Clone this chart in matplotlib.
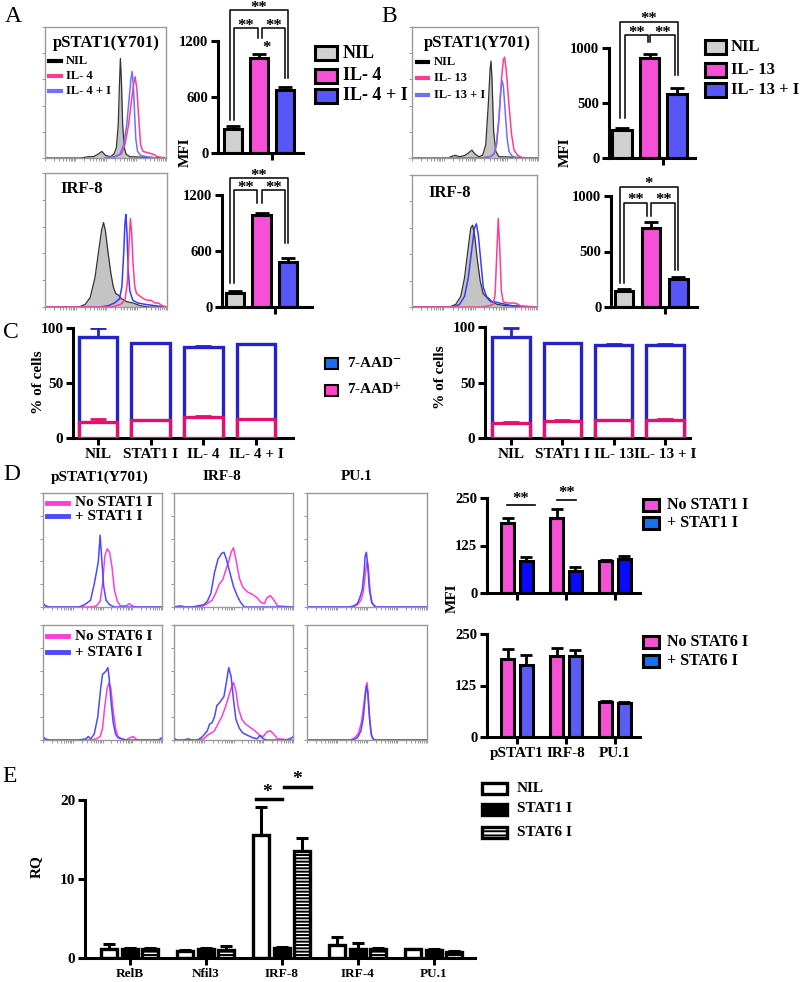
import numpy as np
import matplotlib
matplotlib.use('Agg')
import matplotlib.pyplot as plt
from matplotlib.patches import Rectangle
from matplotlib.lines import Line2D

plt.rcParams['font.family'] = ['Liberation Serif', 'DejaVu Serif']
plt.rcParams['font.weight'] = 'bold'
plt.rcParams['mathtext.fontset'] = 'stix'
plt.rcParams['hatch.linewidth'] = 1.4

# ---------------- DATA ----------------
# Panel A / B bar charts (MFI)
a_groups = ["NIL", "IL- 4", "IL- 4 + I"]
a1_vals = [262, 1020, 672]
a1_errs = [22, 45, 30]
a2_vals = [150, 990, 480]
a2_errs = [20, 22, 42]
b_groups = ["NIL", "IL- 13", "IL- 13 + I"]
b1_vals = [255, 905, 582]
b1_errs = [18, 45, 52]
b2_vals = [146, 712, 252]
b2_errs = [16, 50, 18]

# Panel C (% of cells)
c_left_labels = ["NIL", "STAT1 I", "IL- 4", "IL- 4 + I"]
c_left_neg = [92, 86, 82.5, 85.5]
c_left_neg_err = [8, 0.4, 1.2, 0.4]
c_left_pos = [15, 16, 19, 17]
c_left_pos_err = [2.5, 0.7, 1.0, 0.7]
c_right_labels = ["NIL", "STAT1 I", "IL- 13", "IL- 13 + I"]
c_right_neg = [91, 85.6, 84.2, 84.2]
c_right_neg_err = [8, 0.4, 0.3, 0.5]
c_right_pos = [13.5, 15.3, 16.2, 16.2]
c_right_pos_err = [1.0, 0.6, 0.4, 0.5]

# Panel D bar charts (MFI)
d_labels = ["pSTAT1", "IRF-8", "PU.1"]
d1_no = [184, 197, 84]
d1_no_err = [13, 24, 3]
d1_with = [84, 58, 89]
d1_with_err = [11, 10, 8]
d2_no = [189, 197, 85]
d2_no_err = [25, 19, 2]
d2_with = [175, 197, 82]
d2_with_err = [24, 14, 3]

# Panel E (RQ)
e_labels = ["RelB", "Nfil3", "IRF-8", "IRF-4", "PU.1"]
e_nil = [1.2, 0.85, 15.6, 1.7, 1.1]
e_nil_err = [0.6, 0.1, 3.5, 1.0, 0.1]
e_stat1 = [1.1, 1.1, 1.3, 1.2, 1.0]
e_stat1_err = [0.2, 0.2, 0.1, 0.7, 0.15]
e_stat6 = [1.2, 1.0, 13.6, 1.2, 0.8]
e_stat6_err = [0.1, 0.5, 1.6, 0.1, 0.1]

# Histogram curves (x: % of axis, y: % of axis height)
a1_nil_x = [0, 30, 36, 40, 44, 47, 50, 54, 57, 59, 60.5, 61.5, 62.3, 63.2, 64.2, 65.5, 67, 70, 100]
a1_nil_y = [0, 0, 1, 1, 3, 5, 2, 1, 3, 8, 25, 55, 76, 58, 25, 8, 3, 1, 0]
a1_il_x = [50, 58, 63, 66, 69, 71, 73, 74.5, 76, 77.5, 79, 81, 85, 89, 93, 100]
a1_il_y = [0, 1, 3, 10, 25, 40, 55, 62, 52, 30, 10, 5, 4, 3, 1, 0]
a1_ili_x = [50, 58, 62, 65, 67.5, 69.5, 71, 72, 73, 74, 75, 76.5, 79, 84, 92]
a1_ili_y = [0, 1, 3, 10, 25, 45, 60, 66, 56, 35, 15, 5, 2, 1, 0]

a2_nil_x = [0, 28, 33, 37, 41, 44, 46.5, 48, 49.5, 51.5, 54, 56, 58, 60, 63, 67, 72, 78, 85, 100]
a2_nil_y = [0, 0, 2, 7, 22, 42, 58, 63, 57, 42, 25, 15, 10, 9, 6, 4, 3, 1, 0, 0]
a2_ili_x = [0, 45, 52, 57, 61, 63, 64.5, 65.5, 66.3, 67.2, 68.2, 69.5, 72, 76, 82, 90, 100]
a2_ili_y = [0, 0, 1, 3, 6, 15, 40, 62, 69, 55, 28, 12, 5, 3, 2, 1, 0]
a2_il_x = [0, 55, 62, 65.5, 67.5, 68.8, 70, 71, 72.2, 73.5, 75, 78, 81, 84, 87, 90, 93, 96, 100]
a2_il_y = [0, 0, 2, 5, 18, 45, 66, 56, 32, 16, 10, 8, 6, 5, 5, 3, 3, 1, 0]

b1_nil_x = [0, 28, 34, 38, 42, 45, 47.5, 50, 53, 56, 58.5, 60.5, 62, 62.7, 63.5, 64.8, 66.5, 69, 100]
b1_nil_y = [0, 0, 2, 1, 2, 4, 6, 3, 1, 2, 10, 40, 68, 74, 60, 20, 5, 1, 0]
b1_il_x = [0, 55, 62, 65, 67, 69, 71, 72.5, 73.5, 75, 77, 79, 81, 84, 88, 100]
b1_il_y = [0, 0, 1, 3, 10, 30, 60, 75, 77, 65, 40, 18, 6, 2, 0, 0]
b1_ili_x = [0, 55, 62, 65, 67, 69, 70.5, 71.5, 72.5, 74, 75.5, 77, 79, 82, 100]
b1_ili_y = [0, 0, 1, 3, 10, 30, 52, 59, 55, 35, 15, 5, 2, 0, 0]

b2_nil_x = [0, 30, 35, 39, 42, 45, 47, 48.5, 50, 52, 54.5, 57, 59, 61, 64, 68, 75, 100]
b2_nil_y = [0, 0, 2, 8, 22, 45, 60, 62, 55, 38, 20, 10, 8, 7, 4, 2, 1, 0]
b2_ili_x = [0, 33, 38, 42, 45, 48, 50, 51.5, 53, 55, 57, 60, 63, 66, 70, 75, 80, 100]
b2_ili_y = [0, 0, 2, 8, 22, 45, 60, 63, 55, 35, 15, 7, 4, 4, 3, 2, 1, 0]
b2_il_x = [0, 55, 62, 65, 66.5, 67.8, 69, 70.2, 71.5, 73, 76, 80, 82, 85, 88, 100]
b2_il_y = [0, 0, 1, 2, 10, 40, 67, 45, 12, 4, 3, 3, 3, 2, 0, 0]

d11_with_x = [0, 2, 5, 30, 35, 40, 43, 45, 46.5, 48, 49.5, 51, 53, 56, 60, 65, 100]
d11_with_y = [3, 1, 0, 0, 2, 6, 20, 31, 40, 63, 40, 18, 6, 2, 0, 0, 0]
d11_no_x = [0, 2, 5, 40, 45, 48, 50, 52, 54, 56, 58, 60, 62.5, 65, 70, 72.5, 75, 78, 100]
d11_no_y = [3, 1, 0, 0, 1, 5, 20, 45, 51, 48, 35, 15, 5, 1, 1, 3, 1, 0, 0]
d12_with_x = [0, 5, 10, 15, 20, 25, 28, 31, 34, 37, 40, 42, 44, 47, 50, 53, 56, 59, 100]
d12_with_y = [0, 1, 0, 0, 1, 2, 5, 12, 30, 42, 47, 48, 42, 30, 18, 10, 4, 0, 0]
d12_no_x = [0, 20, 25, 28, 32, 35, 38, 41, 44, 46, 48, 50, 52, 55, 58, 62, 66, 70, 73, 76, 78, 81, 84, 87, 100]
d12_no_y = [0, 0, 1, 3, 6, 12, 20, 24, 34, 40, 48, 52, 42, 25, 17, 13, 11, 8, 4, 3, 8, 10, 6, 1, 0]
d13_with_x = [0, 35, 39, 42, 44, 46, 47.5, 48.5, 49.5, 50.5, 52, 54, 56, 58, 100]
d13_with_y = [0, 0, 1, 3, 8, 15, 30, 45, 48, 38, 15, 4, 1, 0, 0]
d13_no_x = [0, 38, 42, 45, 47, 48.5, 50, 51, 52.5, 54, 56, 58, 100]
d13_no_y = [0, 0, 2, 6, 14, 28, 40, 36, 15, 4, 1, 0, 0]

d21_with_x = [0, 2, 5, 30, 36, 38, 40, 43, 46, 48.5, 50, 51, 53, 54.5, 55.5, 57, 59, 61, 63, 66, 70, 97, 100]
d21_with_y = [3, 1, 0, 0, 1, 3, 1, 5, 20, 45, 57, 58, 60, 63, 55, 35, 15, 5, 2, 1, 0, 0, 2]
d21_no_x = [0, 40, 45, 48, 50, 52, 54, 55.5, 57, 59, 61, 63, 66, 70, 73, 76, 79, 100]
d21_no_y = [0, 0, 1, 3, 10, 30, 45, 50, 45, 25, 10, 3, 1, 0, 2, 3, 0, 0]
d22_with_x = [0, 2, 8, 12, 15, 20, 24, 28, 30, 32, 34, 36, 38, 40, 42, 44, 46, 48, 50, 52, 55, 58, 62, 66, 70, 72, 75, 78, 82, 88, 95, 99, 100]
d22_with_y = [2, 0, 0, 1, 0, 0, 3, 8, 14, 15, 20, 30, 32, 35, 38, 50, 63, 55, 35, 18, 10, 6, 4, 2, 1, 4, 1, 0, 0, 0, 0, 2, 3]
d22_no_x = [0, 20, 25, 28, 31, 34, 37, 40, 43, 46, 48, 50, 52, 54, 57, 60, 64, 68, 72, 75, 78, 81, 84, 87, 100]
d22_no_y = [0, 0, 1, 4, 6, 8, 14, 20, 28, 38, 45, 50, 43, 28, 18, 14, 11, 8, 4, 3, 7, 8, 5, 1, 0]
d23_with_x = [0, 38, 42, 45, 47, 48.5, 49.5, 50.5, 52, 53.5, 55, 57, 100]
d23_with_y = [0, 0, 2, 8, 20, 38, 47, 42, 20, 5, 1, 0, 0]
d23_no_x = [0, 36, 40, 43, 45.5, 47.5, 49, 50, 51, 52.5, 54, 56, 100]
d23_no_y = [0, 0, 2, 6, 16, 32, 45, 50, 40, 15, 3, 0, 0]

# ---------------- STYLE ----------------
GRAY = '#d0d0d0'
PINK = '#f550d6'
BLUE = '#5757f7'
HIST_PINK_A = '#ff3d8e'
HIST_BLUE_A = '#6f6fff'
D_PINK = '#ff3ddc'
D_BLUE = '#4a4aff'
LEG_BLUE = '#1a6ff0'
C_BLUE = '#2323c8'
C_PINK = '#e0126e'

W, H = 800, 982
fig = plt.figure(figsize=(8, 9.82), dpi=100)


def rect(x0, y0, x1, y1):
    return [x0 / W, 1 - y1 / H, (x1 - x0) / W, (y1 - y0) / H]


def fx(x):
    return x / W


def fy(y):
    return 1 - y / H


LOGT = [25 * d + 25 * np.log10(k) for d in range(4) for k in range(1, 10)] + [100]


def hist_axes(x0, y0, x1, y1):
    ax = fig.add_axes(rect(x0, y0, x1, y1))
    ax.set_xlim(0, 100)
    ax.set_ylim(0, 100)
    for s in ax.spines.values():
        s.set_color('#9a9a9a')
        s.set_linewidth(1.0)
    ax.set_yticks(np.arange(0, 101, 20))
    ax.set_xticks(LOGT)
    ax.tick_params(length=2, width=0.6, colors='#888888', labelleft=False, labelbottom=False)
    return ax


def prism(ax, xlim, ylim, yticks, fs=10.5):
    ax.set_xlim(*xlim)
    ax.set_ylim(*ylim)
    ax.spines['top'].set_visible(False)
    ax.spines['right'].set_visible(False)
    ax.spines['left'].set_linewidth(2.2)
    ax.spines['bottom'].set_linewidth(2.2)
    ax.set_yticks(yticks)
    ax.tick_params(width=2.2, length=5, labelsize=fs, pad=2)
    ax.patch.set_alpha(0)


def bars3(ax, vals, errs, colors):
    x = np.arange(len(vals))
    ax.bar(x, vals, width=0.7, color=colors, edgecolor='black', linewidth=2.2, zorder=2)
    ax.errorbar(x, vals, yerr=[np.zeros(len(vals)), errs], fmt='none', ecolor='black',
                elinewidth=2, capsize=5, capthick=2, zorder=1)


def bracket(ax, x1, x2, y, y1, y2, text, ty, fs=12):
    ax.plot([x1, x1, x2, x2], [y1, y, y, y2], color='black', lw=1.1, clip_on=False)
    ax.text((x1 + x2) / 2, ty, text, ha='center', va='center', fontsize=fs, clip_on=False)


def box_legend(x0, w, h, ycs, fcs, labels, tx, fs, lw=2.2, hatches=None):
    for i, (yc, fc, lab) in enumerate(zip(ycs, fcs, labels)):
        r = Rectangle((fx(x0), fy(yc + h / 2)), w / W, h / H, transform=fig.transFigure,
                      facecolor=fc, edgecolor='black', lw=lw,
                      hatch=(hatches[i] if hatches else None))
        fig.add_artist(r)
        fig.text(fx(tx), fy(yc), lab, va='center', ha='left', fontsize=fs)


def line_legend(x0, x1, ycs, colors, labels, tx, fs, lw=3):
    for yc, c, lab in zip(ycs, colors, labels):
        fig.add_artist(Line2D([fx(x0), fx(x1)], [fy(yc), fy(yc)], color=c, lw=lw,
                              transform=fig.transFigure))
        fig.text(fx(tx), fy(yc), lab, va='center', ha='left', fontsize=fs)


# panel letters
for lab, (x, y) in {"A": (5, 17), "B": (381, 17), "C": (3, 332), "D": (3, 475), "E": (2, 777)}.items():
    fig.text(fx(x), fy(y), lab, fontsize=17, fontweight='normal', va='center', ha='left')

# ---------------- Panel A ----------------
ax = hist_axes(45, 27, 166, 158)
ax.fill_between(a1_nil_x, a1_nil_y, color='#c4c4c4', lw=0)
ax.plot(a1_nil_x, a1_nil_y, color='#333333', lw=0.9)
ax.plot(a1_il_x, a1_il_y, color=HIST_PINK_A, lw=1.1)
ax.plot(a1_ili_x, a1_ili_y, color=HIST_BLUE_A, lw=1.1)
fig.text(fx(106), fy(43), "pSTAT1(Y701)", ha='center', va='center', fontsize=12)
line_legend(49, 61, [61, 76, 91], ['black', HIST_PINK_A, HIST_BLUE_A], a_groups, 66, 9)

ax = hist_axes(45, 173, 167, 307)
ax.fill_between(a2_nil_x, a2_nil_y, color='#c4c4c4', lw=0)
ax.plot(a2_nil_x, a2_nil_y, color='#333333', lw=0.9)
ax.plot(a2_ili_x, a2_ili_y, color='#3a3aff', lw=1.1)
ax.plot(a2_il_x, a2_il_y, color=HIST_PINK_A, lw=1.1)
fig.text(fx(60), fy(189), "IRF-8", ha='left', va='center', fontsize=12)

ax = fig.add_axes(rect(218, 41, 303, 153))
prism(ax, (-0.58, 2.69), (0, 1200), [0, 600, 1200])
bars3(ax, a1_vals, a1_errs, [GRAY, PINK, BLUE])
ax.set_xticks([1.5])
ax.set_xticklabels([""])
bracket(ax, -0.12, 2.12, 1530, 350, 800, "**", 1555)
bracket(ax, 0.04, 0.96, 1340, 350, 1230, "**", 1365)
bracket(ax, 1.1, 2.0, 1340, 1230, 800, "**", 1365)
ax.text(1.3, 1130, "*", ha='center', va='center', fontsize=12)

ax = fig.add_axes(rect(222, 195, 312, 307))
prism(ax, (-0.49, 2.9), (0, 1200), [0, 600, 1200])
bars3(ax, a2_vals, a2_errs, [GRAY, PINK, BLUE])
ax.set_xticks([1.5])
ax.set_xticklabels([""])
bracket(ax, -0.19, 2.0, 1382, 257, 686, "**", 1405)
bracket(ax, -0.04, 0.83, 1254, 257, 1114, "**", 1275)
bracket(ax, 1.02, 1.89, 1254, 1114, 686, "**", 1275)

fig.text(fx(185), fy(152), "MFI", rotation=90, ha='center', va='center', fontsize=11)
box_legend(315, 22, 13, [53, 76, 96], [GRAY, PINK, BLUE], a_groups, 343, 13)

# ---------------- Panel B ----------------
ax = hist_axes(412, 27, 538, 158)
ax.fill_between(b1_nil_x, b1_nil_y, color='#c4c4c4', lw=0)
ax.plot(b1_nil_x, b1_nil_y, color='#333333', lw=0.9)
ax.plot(b1_il_x, b1_il_y, color=HIST_PINK_A, lw=1.1)
ax.plot(b1_ili_x, b1_ili_y, color=HIST_BLUE_A, lw=1.1)
fig.text(fx(477), fy(43), "pSTAT1(Y701)", ha='center', va='center', fontsize=12)
line_legend(417, 428, [62, 78, 95], ['black', HIST_PINK_A, HIST_BLUE_A], b_groups, 434, 9)

ax = hist_axes(412, 175, 537, 307)
ax.fill_between(b2_nil_x, b2_nil_y, color='#c4c4c4', lw=0)
ax.plot(b2_nil_x, b2_nil_y, color='#333333', lw=0.9)
ax.plot(b2_ili_x, b2_ili_y, color='#3a3aff', lw=1.1)
ax.plot(b2_il_x, b2_il_y, color=HIST_PINK_A, lw=1.1)
fig.text(fx(428), fy(193), "IRF-8", ha='left', va='center', fontsize=12)

ax = fig.add_axes(rect(609, 48, 695, 158))
prism(ax, (-0.47, 2.65), (0, 1000), [0, 500, 1000])
bars3(ax, b1_vals, b1_errs, [GRAY, PINK, BLUE])
ax.set_xticks([1.5])
ax.set_xticklabels([""])
bracket(ax, -0.07, 2.04, 1236, 364, 755, "**", 1265)
bracket(ax, 0.11, 0.95, 1118, 364, 1055, "**", 1135)
bracket(ax, 1.02, 1.93, 1118, 1055, 755, "**", 1135)

ax = fig.add_axes(rect(611, 196, 697, 307))
prism(ax, (-0.48, 2.7), (0, 1000), [0, 500, 1000])
bars3(ax, b2_vals, b2_errs, [GRAY, PINK, BLUE])
ax.set_xticks([1.5])
ax.set_xticklabels([""])
bracket(ax, -0.15, 2.0, 1081, 216, 333, "*", 1110)
bracket(ax, 0.0, 0.85, 937, 216, 820, "**", 960)
bracket(ax, 1.0, 1.9, 937, 820, 333, "**", 960)

fig.text(fx(565), fy(152), "MFI", rotation=90, ha='center', va='center', fontsize=11)
box_legend(705, 21, 14, [47, 70, 90], [GRAY, PINK, BLUE], b_groups, 731, 12)


# ---------------- Panel C ----------------
def c_panel(box, xlim, labels, neg, neg_err, pos, pos_err):
    ax = fig.add_axes(rect(*box))
    prism(ax, xlim, (0, 100), [0, 50, 100], fs=11)
    x = np.arange(len(neg))
    ax.bar(x, neg, width=0.73, color='white', edgecolor=C_BLUE, linewidth=2.4, zorder=2)
    ax.errorbar(x, neg, yerr=[np.zeros(len(neg)), neg_err], fmt='none', ecolor=C_BLUE,
                elinewidth=2, capsize=6, capthick=2, zorder=1)
    ax.errorbar(x, pos, yerr=[np.zeros(len(pos)), pos_err], fmt='none', ecolor=C_PINK,
                elinewidth=2, capsize=6, capthick=2, zorder=3)
    ax.bar(x, pos, width=0.73, color='white', edgecolor=C_PINK, linewidth=2.4, zorder=4)
    ax.set_xticks(x)
    ax.set_xticklabels(labels, fontsize=11)
    return ax


c_panel((73, 328, 293, 438), (-0.47, 3.7), c_left_labels, c_left_neg, c_left_neg_err,
        c_left_pos, c_left_pos_err)
c_panel((485, 327, 690, 438), (-0.51, 3.49), c_right_labels, c_right_neg, c_right_neg_err,
        c_right_pos, c_right_pos_err)
fig.text(fx(38), fy(382), "% of cells", rotation=90, ha='center', va='center', fontsize=11)
fig.text(fx(441), fy(377), "% of cells", rotation=90, ha='center', va='center', fontsize=11)
box_legend(325, 13, 11, [363, 390], [LEG_BLUE, '#ff44cc'],
           [r"7-AAD$^{\mathbf{-}}$", r"7-AAD$^{\mathbf{+}}$"], 347, 11, lw=1.5)

# ---------------- Panel D ----------------
for t, x in [("pSTAT1(Y701)", 100), ("IRF-8", 222), ("PU.1", 357)]:
    fig.text(fx(x), fy(477), t, ha='center', va='center', fontsize=11)

hist_rows = [
    (493, 607, [(d11_no_x, d11_no_y, d11_with_x, d11_with_y),
                (d12_no_x, d12_no_y, d12_with_x, d12_with_y),
                (d13_no_x, d13_no_y, d13_with_x, d13_with_y)]),
    (625, 740, [(d21_no_x, d21_no_y, d21_with_x, d21_with_y),
                (d22_no_x, d22_no_y, d22_with_x, d22_with_y),
                (d23_no_x, d23_no_y, d23_with_x, d23_with_y)]),
]
cols = [(43, 162), (174, 293), (307, 427)]
for (y0, y1, curves) in hist_rows:
    for (x0, x1), (nx, ny, wx, wy) in zip(cols, curves):
        ax = hist_axes(x0, y0, x1, y1)
        ax.plot(nx, ny, color=D_PINK, lw=1.1)
        ax.plot(wx, wy, color=D_BLUE, lw=1.1)

line_legend(47, 68, [503, 516], [D_PINK, D_BLUE], ["No STAT1 I", "+ STAT1 I"], 75, 11, lw=3.5)
line_legend(47, 68, [636, 652], [D_PINK, D_BLUE], ["No STAT6 I", "+ STAT6 I"], 75, 11, lw=3.5)


def d_bars(box, no, no_err, wi, wi_err, wcolor, labels):
    ax = fig.add_axes(rect(*box))
    prism(ax, (-0.61, 2.51), (0, 250), [0, 125, 250], fs=10.5)
    x = np.arange(len(no))
    for off, v, e, c in [(-0.19, no, no_err, PINK), (0.19, wi, wi_err, wcolor)]:
        ax.bar(x + off, v, width=0.27, color=c, edgecolor='black', linewidth=2.2, zorder=2)
        ax.errorbar(x + off, v, yerr=[np.zeros(len(v)), e], fmt='none', ecolor='black',
                    elinewidth=2, capsize=4, capthick=2, zorder=1)
    ax.set_xticks(x)
    ax.set_xticklabels(labels if labels else [""] * len(x), fontsize=11)
    return ax


ax = d_bars((487, 498, 640, 593), d1_no, d1_no_err, d1_with, d1_with_err, '#0a0aff', None)
ax.plot([-0.2, 0.37], [231, 231], color='black', lw=1.2, clip_on=False)
ax.text(0.085, 248, "**", ha='center', va='center', fontsize=12, clip_on=False)
ax.plot([0.82, 1.2], [245, 245], color='black', lw=1.2, clip_on=False)
ax.text(1.01, 263, "**", ha='center', va='center', fontsize=12, clip_on=False)
ax = d_bars((487, 634, 640, 737), d2_no, d2_no_err, d2_with, d2_with_err, '#5b5bf5', d_labels)

fig.text(fx(452), fy(598), "MFI", rotation=90, ha='center', va='center', fontsize=11)
box_legend(643, 16, 12, [505, 523], [PINK, LEG_BLUE], ["No STAT1 I", "+ STAT1 I"], 667, 11.5)
box_legend(643, 16, 12, [642, 661], [PINK, LEG_BLUE], ["No STAT6 I", "+ STAT6 I"], 667, 11.5)

# ---------------- Panel E ----------------
ax = fig.add_axes(rect(85, 800, 475, 958))
prism(ax, (-0.59, 4.54), (0, 20), [0, 10, 20], fs=11)
x = np.arange(len(e_labels))
for off, v, e, fc, hatch in [(-0.27, e_nil, e_nil_err, 'white', None),
                             (0.0, e_stat1, e_stat1_err, 'black', None),
                             (0.27, e_stat6, e_stat6_err, 'white', '-----')]:
    ax.bar(x + off, v, width=0.21, color=fc, edgecolor='black', linewidth=2.4, hatch=hatch, zorder=2)
    ax.errorbar(x + off, v, yerr=[np.zeros(len(v)), e], fmt='none', ecolor='black',
                elinewidth=2.2, capsize=4, capthick=2.2, zorder=1)
ax.set_xticks(x)
ax.set_xticklabels(e_labels, fontsize=9.5)
ax.plot([1.66, 2.0], [20.1, 20.1], color='black', lw=2.5, clip_on=False)
ax.text(1.8, 21.0, "*", ha='center', va='center', fontsize=14, clip_on=False)
ax.plot([2.03, 2.38], [21.6, 21.6], color='black', lw=2.5, clip_on=False)
ax.text(2.2, 22.6, "*", ha='center', va='center', fontsize=14, clip_on=False)
fig.text(fx(36), fy(867), "RQ", rotation=90, ha='center', va='center', fontsize=11)
box_legend(482, 25, 11, [788, 809, 832], ['white', 'black', 'white'],
           ["NIL", "STAT1 I", "STAT6 I"], 517, 11, lw=2.4, hatches=[None, None, '----'])

fig.savefig("out.png", dpi=100)
